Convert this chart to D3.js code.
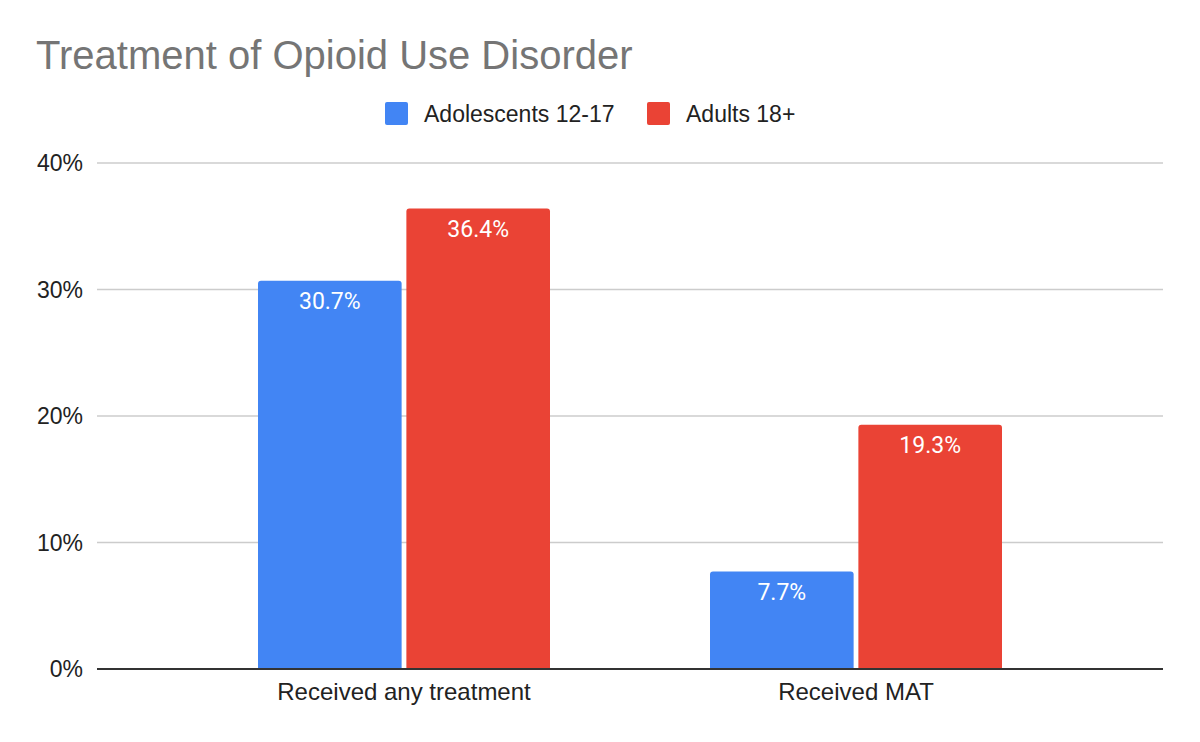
<html>
<head>
<style>
body { margin: 0; background: #fff; }
text { font-family: "Liberation Sans", Arial, sans-serif; }
.tick-label, .legend-label { font-size: 23px; fill: #222; }
.cat-label { font-size: 24px; fill: #222; }
.title { font-size: 40px; fill: #757575; }
.bar-label { font-family: Roboto, sans-serif; font-size: 23px; fill: #fff; }
</style>
<script src="https://d3js.org/d3.v7.min.js"></script>
</head>
<body>
<script>
var categories = ["Received any treatment", "Received MAT"];
var seriesNames = ["Adolescents 12-17", "Adults 18+"];
var seriesColors = ["#4285f4", "#ea4335"];
var adolescents = [30.7, 7.7];
var adults = [36.4, 19.3];
var yTicks = [0, 10, 20, 30, 40];

var width = 1200, height = 742;

var svg = d3.select("body").append("svg")
	.attr("width", width)
	.attr("height", height);

// plot box (plotTop, since "top" is taken by window.top)
var plotLeft = 97, plotRight = 1163, plotTop = 163, plotBottom = 669;

var y = d3.scaleLinear().domain([0, 40]).range([plotBottom, plotTop]);

var x0 = d3.scaleBand().domain(categories).range([178, 1082]);
var groupW = 292;
var x1 = d3.scaleBand().domain(seriesNames).range([0, groupW]).paddingInner(0.032);
var color = d3.scaleOrdinal().domain(seriesNames).range(seriesColors);

// title
svg.append("text")
	.attr("class", "title")
	.attr("x", 36)
	.attr("y", 69)
	.text("Treatment of Opioid Use Disorder");

// legend
var legendX = [385, 647];
var legend = svg.selectAll(".legend")
	.data(seriesNames)
  .enter().append("g")
	.attr("class", "legend")
	.attr("transform", function(d, i) { return "translate(" + legendX[i] + ",102)"; });
legend.append("rect")
	.attr("width", 23)
	.attr("height", 23)
	.attr("rx", 2)
	.attr("fill", function(d) { return color(d); });
legend.append("text")
	.attr("class", "legend-label")
	.attr("x", 39)
	.attr("y", 19.5)
	.text(function(d) { return d; });

// gridlines
svg.selectAll(".grid")
	.data(yTicks.filter(function(d) { return d > 0; }))
  .enter().append("line")
	.attr("class", "grid")
	.attr("x1", plotLeft)
	.attr("x2", plotRight)
	.attr("y1", function(d) { return y(d); })
	.attr("y2", function(d) { return y(d); })
	.attr("stroke", "#cccccc")
	.attr("stroke-width", 1.3);

// y tick labels
svg.selectAll(".tick-label")
	.data(yTicks)
  .enter().append("text")
	.attr("class", "tick-label")
	.attr("x", 83)
	.attr("y", function(d) { return y(d) + 8; })
	.attr("text-anchor", "end")
	.text(function(d) { return d + "%"; });

// bars
var rows = categories.map(function(c, i) {
	return { cat: c, values: [
		{ series: seriesNames[0], value: adolescents[i] },
		{ series: seriesNames[1], value: adults[i] }
	] };
});

function topRounded(x, yTop, w, h, r) {
	return "M" + x + "," + (yTop + h) +
		"V" + (yTop + r) +
		"Q" + x + "," + yTop + " " + (x + r) + "," + yTop +
		"H" + (x + w - r) +
		"Q" + (x + w) + "," + yTop + " " + (x + w) + "," + (yTop + r) +
		"V" + (yTop + h) + "Z";
}

var groups = svg.selectAll(".group")
	.data(rows)
  .enter().append("g")
	.attr("class", "group")
	.attr("transform", function(d) {
		return "translate(" + (x0(d.cat) + (x0.bandwidth() - groupW) / 2) + ",0)";
	});

groups.selectAll("path")
	.data(function(d) { return d.values; })
  .enter().append("path")
	.attr("d", function(d) {
		return topRounded(x1(d.series), y(d.value), x1.bandwidth(), plotBottom - y(d.value), 3);
	})
	.attr("fill", function(d) { return color(d.series); });

groups.selectAll(".bar-label")
	.data(function(d) { return d.values; })
  .enter().append("text")
	.attr("class", "bar-label")
	.attr("x", function(d) { return x1(d.series) + x1.bandwidth() / 2; })
	.attr("y", function(d) { return y(d.value) + 28; })
	.attr("text-anchor", "middle")
	.text(function(d) { return d.value.toFixed(1) + "%"; });

// baseline
svg.append("line")
	.attr("x1", plotLeft)
	.attr("x2", plotRight)
	.attr("y1", plotBottom)
	.attr("y2", plotBottom)
	.attr("stroke", "#333")
	.attr("stroke-width", 2);

// category labels
svg.selectAll(".cat-label")
	.data(categories)
  .enter().append("text")
	.attr("class", "cat-label")
	.attr("x", function(d) { return x0(d) + x0.bandwidth() / 2; })
	.attr("y", 700)
	.attr("text-anchor", "middle")
	.text(function(d) { return d; });
</script>
</body>
</html>
